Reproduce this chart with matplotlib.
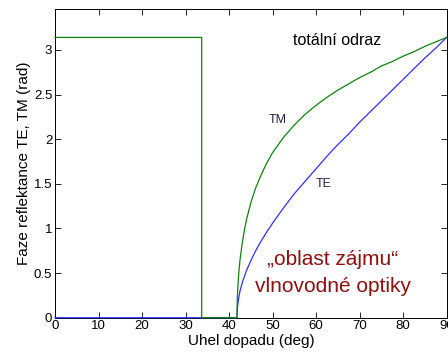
import matplotlib
matplotlib.use('Agg')
from matplotlib import pyplot as plt

plt.rcParams['font.family'] = ['Liberation Sans', 'DejaVu Sans']

# Values.
te_deg = [0, 41.81, 41.85, 41.9, 42, 42.2, 42.5, 43, 43.5, 44, 45, 46, 47,
          48.5, 50, 52.5, 55, 57.5, 60, 62.5, 65, 67.5, 70, 72.5, 75, 77.5,
          80, 82.5, 85, 87.5, 90]
te = [0, 0, 0.07, 0.11, 0.15, 0.22, 0.30, 0.39, 0.46, 0.53, 0.64, 0.74, 0.83,
      0.95, 1.06, 1.23, 1.39, 1.53, 1.67, 1.81, 1.94, 2.06, 2.19, 2.31, 2.43,
      2.55, 2.67, 2.79, 2.91, 3.02, 3.14]

tm_deg = [0, 33.69, 33.69, 41.81, 41.85, 41.9, 42, 42.2, 42.5, 43, 43.5, 44,
          45, 46, 47, 48.5, 50, 52.5, 55, 57.5, 60, 62.5, 65, 67.5, 70, 72.5,
          75, 77.5, 80, 82.5, 85, 87.5, 90]
tm = [3.14, 3.14, 0, 0, 0.16, 0.24, 0.34, 0.49, 0.65, 0.83, 0.98, 1.10,
      1.29, 1.44, 1.56, 1.72, 1.85, 2.02, 2.16, 2.28, 2.38, 2.47, 2.55, 2.62,
      2.69, 2.75, 2.82, 2.87, 2.93, 2.98, 3.04, 3.09, 3.14]

yticks = [0, 0.5, 1, 1.5, 2, 2.5, 3]
ytick_labels = ['0', '0.5', '1', '1.5', '2', '2.5', '3']
xticks = [0, 10, 20, 30, 40, 50, 60, 70, 80, 90]

fig = plt.figure(figsize=(4.48, 3.54), dpi=100)
ax = fig.add_axes([0.123, 0.1025, 0.874, 0.8715])

ax.plot(te_deg, te, color='#3030ff', lw=0.9, zorder=3, clip_on=False)
ax.plot(tm_deg, tm, color='#108010', lw=0.9, zorder=3, clip_on=False)

ax.set_xlim(0, 90)
ax.set_ylim(0, 3.456)
ax.set_xticks(xticks)
ax.set_yticks(yticks)
ax.set_yticklabels(ytick_labels)
ax.tick_params(direction='in', top=True, right=True, length=4, width=0.6,
               labelsize=9.5, pad=2)
for s in ax.spines.values():
    s.set_linewidth(0.7)

ax.set_xlabel('Uhel dopadu (deg)', fontsize=11, labelpad=1)
ax.set_ylabel('Faze reflektance TE, TM (rad)', fontsize=11, labelpad=2)

ax.text(64.7, 3.10, 'totální odraz', fontsize=11.5, ha='center', va='center')
ax.text(51.2, 2.21, 'TM', fontsize=9, ha='center', va='center', color='#202040')
ax.text(61.8, 1.50, 'TE', fontsize=9, ha='center', va='center', color='#302050')
ax.text(63.8, 0.65, '„oblast zájmu“', fontsize=15, ha='center', va='center',
        color='#8b1010')
ax.text(63.8, 0.355, 'vlnovodné optiky', fontsize=15, ha='center',
        va='center', color='#8b1010')

fig.savefig('out.png', dpi=100)
